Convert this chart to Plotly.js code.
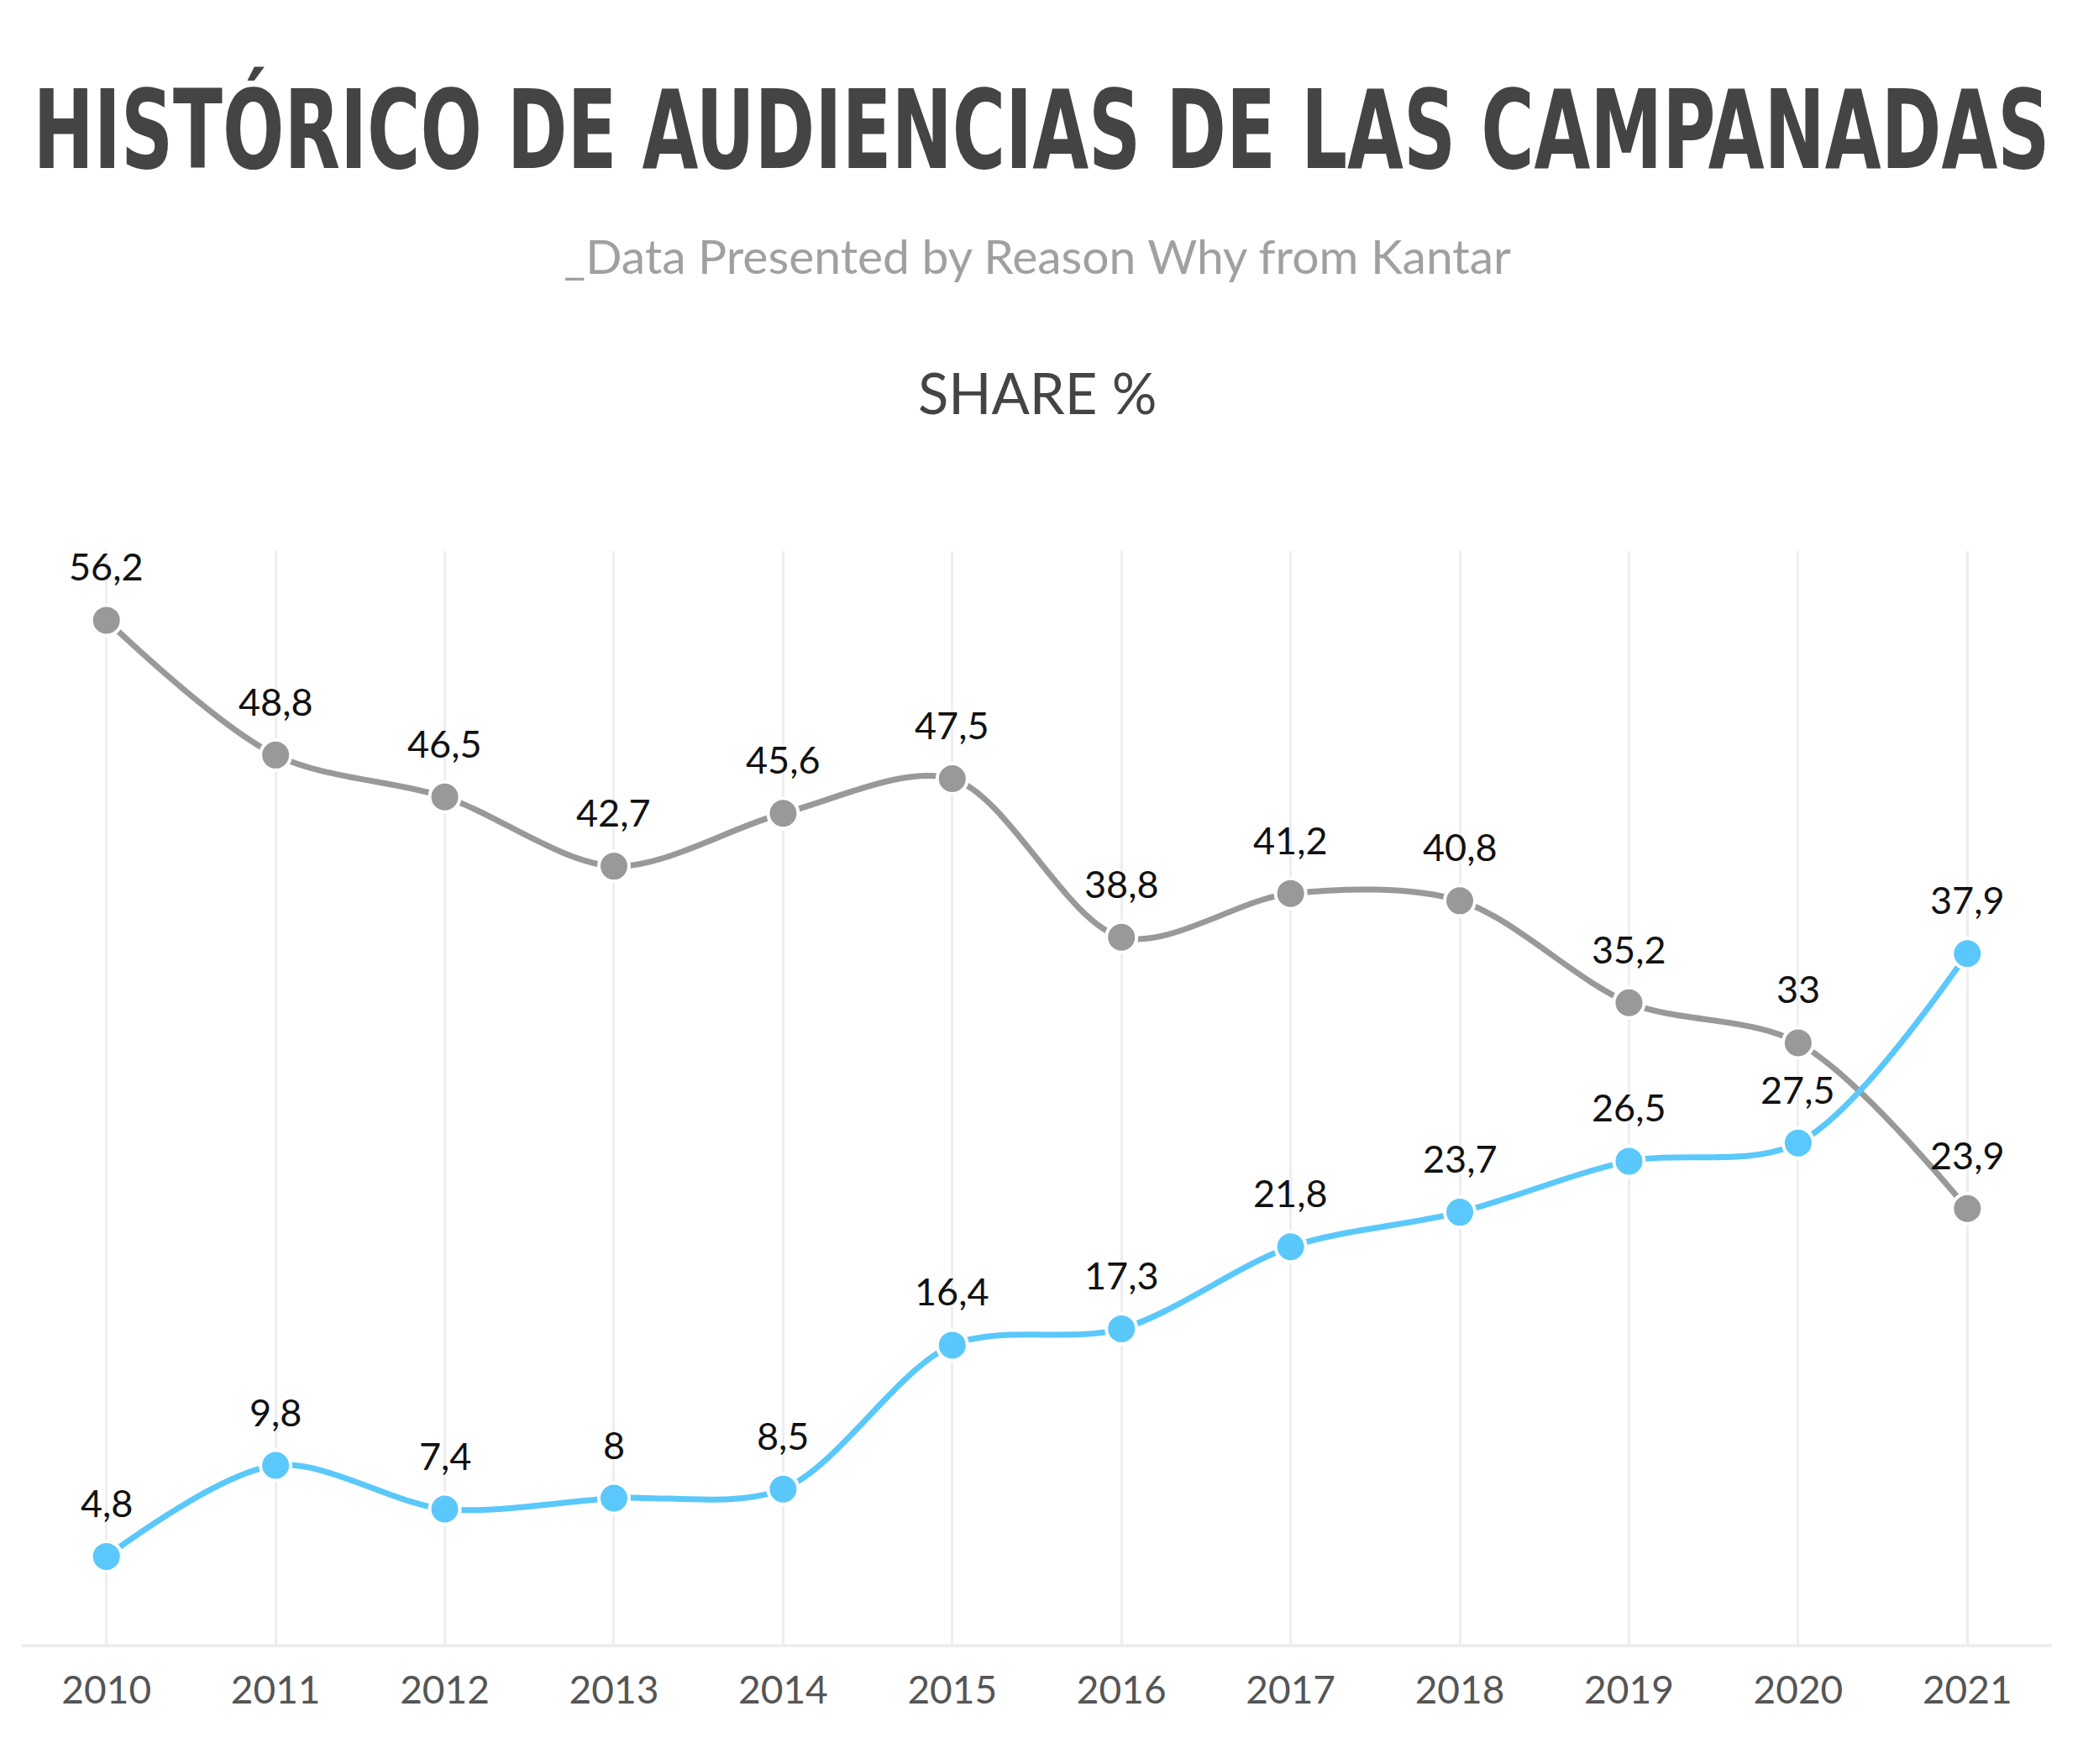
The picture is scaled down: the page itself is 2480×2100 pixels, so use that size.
<!DOCTYPE html>
<html>
<head>
<meta charset="utf-8">
<script src="https://cdn.plot.ly/plotly-3.0.1.min.js"></script>
<style>
  html, body { margin: 0; padding: 0; background: #fff; }
  #chart { width: 2480px; height: 2100px; }
  /* condensed face, stretched vertically to get the tall headline look */
  .gtitle {
    font-stretch: condensed !important;
    transform-box: fill-box; transform-origin: center; transform: scaleY(1.36);
  }
</style>
</head>
<body>
<div id="chart"></div>
<script>
// share % of the New Year's Eve chimes, 2010-2021
var years = [2010, 2011, 2012, 2013, 2014, 2015, 2016, 2017, 2018, 2019, 2020, 2021];
var grayShare = [56.2, 48.8, 46.5, 42.7, 45.6, 47.5, 38.8, 41.2, 40.8, 35.2, 33, 23.9];
var blueShare = [4.8, 9.8, 7.4, 8, 8.5, 16.4, 17.3, 21.8, 23.7, 26.5, 27.5, 37.9];

var grayColor = 'rgb(153,153,153)';
var blueColor = 'rgb(90,200,250)';
var textFont = 'Lato, "Open Sans", sans-serif';

function commaLabel(v) {
    return String(v).replace('.', ',');
}

function lineTrace(name, values, color) {
    return {
        x: years,
        y: values,
        name: name,
        type: 'scatter',
        mode: 'lines+markers',
        line: {color: color, width: 7, shape: 'spline', smoothing: 0.9},
        marker: {color: color, size: 36, line: {color: '#fff', width: 4}},
        hoverinfo: 'x+y',
        cliponaxis: false
    };
}

var data = [
    lineTrace('La 1', grayShare, grayColor),
    lineTrace('Antena 3', blueShare, blueColor)
];

// value labels above each point
var annotations = [];
var i;
for (i = 0; i < years.length; i++) {
    annotations.push({
        x: years[i], y: grayShare[i], xref: 'x', yref: 'y',
        text: commaLabel(grayShare[i]), showarrow: false, yshift: 64,
        font: {family: textFont, size: 45, color: '#111'}
    });
    annotations.push({
        x: years[i], y: blueShare[i], xref: 'x', yref: 'y',
        text: commaLabel(blueShare[i]), showarrow: false, yshift: 64,
        font: {family: textFont, size: 45, color: '#111'}
    });
}

// subtitle and chart heading (paper units above the plot area)
annotations.push({
    text: '_Data Presented by Reason Why from Kantar',
    xref: 'paper', yref: 'paper', x: 0.5, y: 1.2706,
    xanchor: 'center', yanchor: 'middle', showarrow: false,
    font: {family: textFont, size: 57, color: '#a0a0a0'}
});
annotations.push({
    text: 'SHARE %',
    xref: 'paper', yref: 'paper', x: 0.5, y: 1.1453,
    xanchor: 'center', yanchor: 'middle', showarrow: false,
    font: {family: textFont, size: 67, color: '#444'}
});

var layout = {
    width: 2480,
    height: 2100,
    paper_bgcolor: '#fff',
    plot_bgcolor: '#fff',
    showlegend: false,
    margin: {l: 26, r: 37, t: 656, b: 143, pad: 0},
    title: {
        text: '<b>HISTÓRICO DE AUDIENCIAS DE LAS CAMPANADAS</b>',
        x: 0.5, xanchor: 'center',
        y: 1 - 155 / 2100, yref: 'container', yanchor: 'middle',
        font: {family: '"DejaVu Sans", sans-serif', size: 96, color: '#444'}
    },
    xaxis: {
        range: [2009.5, 2021.5],
        tickmode: 'array',
        tickvals: years,
        ticktext: years.map(String),
        showgrid: true,
        gridcolor: '#eeeeee',
        gridwidth: 3,
        showline: true,
        linecolor: '#eeeeee',
        linewidth: 4,
        ticks: '',
        ticklabelstandoff: 12,
        tickfont: {family: textFont, size: 46, color: '#555'},
        zeroline: false,
        fixedrange: true
    },
    yaxis: {
        range: [0, 60],
        showgrid: false,
        zeroline: false,
        showline: false,
        showticklabels: false,
        fixedrange: true
    },
    annotations: annotations
};

Plotly.newPlot('chart', data, layout, {displayModeBar: false, staticPlot: true});
</script>
</body>
</html>
